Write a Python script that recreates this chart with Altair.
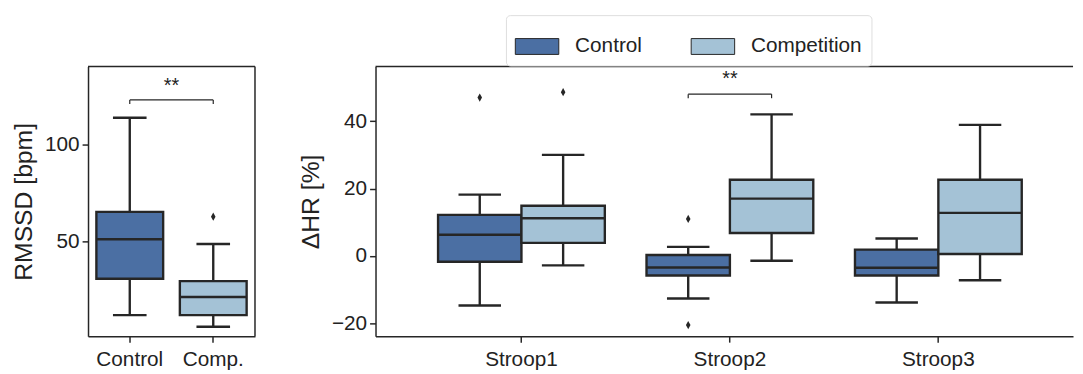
import altair as alt
import pandas as pd

FONT = "Liberation Sans"
EDGE = "#262626"
TXT = "#222222"

# ---------------- left panel: RMSSD ----------------
groups_l = ["Control", "Comp."]
lower_l = [11.9, 5.9]
q1_l = [30.6, 11.9]
median_l = [51.0, 21.2]
q3_l = [65.1, 29.4]
upper_l = [113.6, 48.5]
out_group_l = ["Comp."]
out_val_l = [62.6]
sig_l = {"a": "Control", "b": "Comp.", "y": 122.8, "drop": 120.7, "txt": 126.7, "label": "**"}

# ---------------- right panel: delta HR ----------------
conds = ["Stroop1", "Stroop2", "Stroop3"]
groups_r = ["Control", "Competition"]
box_cond = ["Stroop1", "Stroop1", "Stroop2", "Stroop2", "Stroop3", "Stroop3"]
box_group = ["Control", "Competition", "Control", "Competition", "Control", "Competition"]
lower_r = [-14.7, -2.8, -12.6, -1.4, -13.8, -7.2]
q1_r = [-1.7, 3.9, -5.8, 6.8, -5.8, 0.6]
median_r = [6.3, 11.2, -3.4, 17.0, -3.5, 12.8]
q3_r = [12.2, 14.9, 0.3, 22.6, 1.9, 22.6]
upper_r = [18.2, 30.0, 2.7, 42.0, 5.2, 38.9]
out_cond_r = ["Stroop1", "Stroop1", "Stroop2", "Stroop2"]
out_group_r = ["Control", "Competition", "Control", "Control"]
out_val_r = [47.0, 48.6, 11.0, -20.5]
sig_r = {"cond": "Stroop2", "y": 48.0, "drop": 46.8, "txt": 50.6, "label": "**"}

colors = ["#4b6fa3", "#a4c2d6"]

W_L, W_R, H = 169, 706, 273
LW = 2.4

# ---------- left ----------
box_l = pd.DataFrame({"group": groups_l, "lower": lower_l, "q1": q1_l,
                      "median": median_l, "q3": q3_l, "upper": upper_l})
out_l = pd.DataFrame({"group": out_group_l, "value": out_val_l})
sigl_df = pd.DataFrame([sig_l])
drop_l = pd.DataFrame({"group": [sig_l["a"], sig_l["b"]],
                       "y": [sig_l["y"]] * 2, "drop": [sig_l["drop"]] * 2})

xsc_l = alt.Scale(domain=groups_l, paddingInner=0, paddingOuter=0)
xax_l = alt.Axis(title=None, labelAngle=0, labelPadding=7)
ysc_l = alt.Scale(domain=[1, 140], nice=False, zero=False)
yax_l = alt.Axis(title="RMSSD [bpm]", values=[50, 100], titlePadding=8)


def XL(f="group"):
    return alt.X(f"{f}:N", scale=xsc_l, axis=xax_l)


def YL(f):
    return alt.Y(f"{f}:Q", scale=ysc_l, axis=yax_l)


base_l = alt.Chart(box_l)
whisk_l = base_l.mark_rule(color=EDGE, strokeWidth=LW).encode(x=XL(), y=YL("lower"), y2="upper:Q")
bar_l = base_l.mark_bar(stroke=EDGE, strokeWidth=LW, width=alt.RelativeBandSize(0.8)).encode(
    x=XL(), y=YL("q1"), y2="q3:Q",
    color=alt.Color("group:N", scale=alt.Scale(domain=groups_l, range=colors), legend=None))
med_l = base_l.mark_tick(color=EDGE, size=67.6, thickness=LW, opacity=1).encode(x=XL(), y=YL("median"))
capl_lo = base_l.mark_tick(color=EDGE, size=34, thickness=LW, opacity=1).encode(x=XL(), y=YL("lower"))
capl_hi = base_l.mark_tick(color=EDGE, size=34, thickness=LW, opacity=1).encode(x=XL(), y=YL("upper"))
outs_l = alt.Chart(out_l).mark_point(shape="M-0.55,0L0,-1L0.55,0L0,1Z", filled=True, color=EDGE,
                                     size=70, opacity=1).encode(x=XL(), y=YL("value"))
brk_l = alt.Chart(sigl_df).mark_rule(color=EDGE, strokeWidth=1.2).encode(x=XL("a"), x2="b:N", y=YL("y"))
drp_l = alt.Chart(drop_l).mark_rule(color=EDGE, strokeWidth=1.2).encode(x=XL(), y=YL("drop"), y2="y:Q")
txt_l = alt.Chart(sigl_df).mark_text(font=FONT, fontSize=20, color=TXT, baseline="alphabetic").encode(
    x=alt.value(W_L / 2), y=YL("txt"), text="label:N")
top_l = alt.Chart(alt.Data(values=[{"k": 1}])).mark_rule(color=EDGE, strokeWidth=1.5).encode(
    x=alt.value(0), x2=alt.value(W_L), y=alt.value(0))
right_l = alt.Chart(alt.Data(values=[{"k": 1}])).mark_rule(color=EDGE, strokeWidth=1.5).encode(
    x=alt.value(W_L), y=alt.value(0), y2=alt.value(H))

left = alt.layer(whisk_l, bar_l, med_l, capl_lo, capl_hi, outs_l, brk_l, drp_l, txt_l, top_l, right_l).properties(
    width=W_L, height=H)

# ---------- right ----------
box_r = pd.DataFrame({"cond": box_cond, "group": box_group, "lower": lower_r, "q1": q1_r,
                      "median": median_r, "q3": q3_r, "upper": upper_r})
out_r = pd.DataFrame({"cond": out_cond_r, "group": out_group_r, "value": out_val_r})
sigr_df = pd.DataFrame([sig_r])
drop_r = pd.DataFrame({"cond": [sig_r["cond"]] * 2, "group": groups_r,
                       "y": [sig_r["y"]] * 2, "drop": [sig_r["drop"]] * 2})

xsc_r = alt.Scale(domain=conds, paddingInner=0, paddingOuter=0.173, align=0.578)
xax_r = alt.Axis(title=None, labelAngle=0, labelPadding=7)
ysc_r = alt.Scale(domain=[-23.8, 56.2], nice=False, zero=False)
yax_r = alt.Axis(title="ΔHR [%]", values=[-20, 0, 20, 40], titlePadding=8)
xo = alt.XOffset("group:N", scale=alt.Scale(domain=groups_r, paddingOuter=0.25, paddingInner=0))


def XR(f="cond"):
    return alt.X(f"{f}:N", scale=xsc_r, axis=xax_r)


def YR(f):
    return alt.Y(f"{f}:Q", scale=ysc_r, axis=yax_r)


base_r = alt.Chart(box_r)
whisk_r = base_r.mark_rule(color=EDGE, strokeWidth=LW).encode(x=XR(), xOffset=xo, y=YR("lower"), y2="upper:Q")
bar_r = base_r.mark_bar(stroke=EDGE, strokeWidth=LW).encode(
    x=XR(), xOffset=xo, y=YR("q1"), y2="q3:Q",
    color=alt.Color("group:N", scale=alt.Scale(domain=groups_r, range=colors),
                    legend=alt.Legend(title=None, orient="none", legendX=132, legendY=-52,
                                      direction="horizontal",
                                      symbolType="M-1,-0.364L1,-0.364L1,0.364L-1,0.364Z",
                                      symbolSize=1936, symbolStrokeColor=EDGE, symbolStrokeWidth=1,
                                      labelFontSize=21, labelFont=FONT, labelColor=TXT,
                                      labelOffset=16, columnPadding=47, padding=9,
                                      strokeColor="#dddddd", cornerRadius=4, fillColor="white")))
med_r = base_r.mark_tick(color=EDGE, size=84.4, thickness=LW, opacity=1).encode(x=XR(), xOffset=xo, y=YR("median"))
capr_lo = base_r.mark_tick(color=EDGE, size=43, thickness=LW, opacity=1).encode(x=XR(), xOffset=xo, y=YR("lower"))
capr_hi = base_r.mark_tick(color=EDGE, size=43, thickness=LW, opacity=1).encode(x=XR(), xOffset=xo, y=YR("upper"))
outs_r = alt.Chart(out_r).mark_point(shape="M-0.55,0L0,-1L0.55,0L0,1Z", filled=True, color=EDGE,
                                     size=70, opacity=1).encode(x=XR(), xOffset=xo, y=YR("value"))
brk_r = alt.Chart(sigr_df).mark_rule(color=EDGE, strokeWidth=1.2, xOffset=-42.2, x2Offset=42.2).encode(
    x=XR(), x2="cond:N", y=YR("y"))
drp_r = alt.Chart(drop_r).mark_rule(color=EDGE, strokeWidth=1.2).encode(
    x=XR(), xOffset=xo, y=YR("drop"), y2="y:Q")
txt_r = alt.Chart(sigr_df).mark_text(font=FONT, fontSize=20, color=TXT, baseline="alphabetic").encode(
    x=XR(), y=YR("txt"), text="label:N")
top_r = alt.Chart(alt.Data(values=[{"k": 1}])).mark_rule(color=EDGE, strokeWidth=1.5).encode(
    x=alt.value(0), x2=alt.value(W_R), y=alt.value(0))

right = alt.layer(whisk_r, bar_r, med_r, capr_lo, capr_hi, outs_r, brk_r, drp_r, txt_r, top_r).properties(
    width=W_R, height=H)

chart = alt.hconcat(left, right, spacing=41).resolve_scale(color="independent").properties(
    padding={"left": 3, "top": 4, "right": 0, "bottom": 0}, background="white"
).configure_view(stroke="transparent").configure_axis(
    domainColor=EDGE, domainWidth=1.5, tickColor=EDGE, tickWidth=1.5, tickSize=6,
    labelFont=FONT, labelFontSize=21, labelColor=TXT, labelPadding=3,
    titleFont=FONT, titleFontSize=25, titleFontWeight="normal", titleColor=TXT, grid=False
)

chart.save("out.html", embed_options={"renderer": "svg", "actions": False})
